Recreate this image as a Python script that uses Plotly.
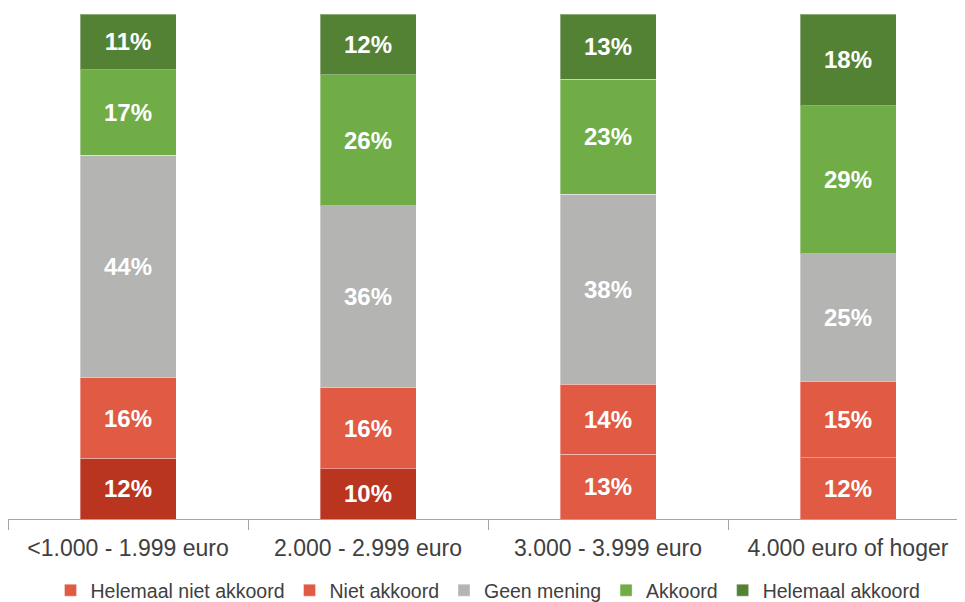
import plotly.graph_objects as go

# Inkomen categorieen
categories = ['<1.000 - 1.999 euro', '2.000 - 2.999 euro', '3.000 - 3.999 euro', '4.000 euro of hoger']

helemaal_niet_akkoord = [12, 10, 13, 12]
niet_akkoord = [16, 16, 14, 15]
geen_mening = [44, 36, 38, 25]
akkoord = [17, 26, 23, 29]
helemaal_akkoord = [11, 12, 13, 18]

# the first two bars use a darker red for "Helemaal niet akkoord"
dark_idx = [0, 1]
light_idx = [2, 3]

label_font = dict(family='Liberation Sans, Arial', size=24, color='white', weight='bold')
edge = dict(color='rgba(255,255,255,0.35)', width=1)

fig = go.Figure()

fig.add_trace(go.Bar(
    x=[categories[i] for i in light_idx], y=[helemaal_niet_akkoord[i] for i in light_idx],
    name='Helemaal niet akkoord', legendrank=1,
    marker=dict(color='#E05A44', line=edge),
    text=[f'{helemaal_niet_akkoord[i]}%' for i in light_idx],
))
fig.add_trace(go.Bar(
    x=[categories[i] for i in dark_idx], y=[helemaal_niet_akkoord[i] for i in dark_idx],
    name='Helemaal niet akkoord', showlegend=False,
    marker=dict(color='#BA3520', line=edge),
    text=[f'{helemaal_niet_akkoord[i]}%' for i in dark_idx],
))

series = [
    ('Niet akkoord', niet_akkoord, '#E05A44'),
    ('Geen mening', geen_mening, '#B4B4B2'),
    ('Akkoord', akkoord, '#70AD47'),
    ('Helemaal akkoord', helemaal_akkoord, '#548235'),
]
for k, (name, vals, color) in enumerate(series):
    fig.add_trace(go.Bar(
        x=categories, y=vals, name=name, legendrank=k + 2,
        marker=dict(color=color, line=edge),
        text=[f'{v}%' for v in vals],
    ))

fig.update_traces(textposition='inside', insidetextanchor='middle', textangle=0,
                  constraintext='none', textfont=label_font)

# page body has an 8px margin, so the figure is shifted by that amount
fig.update_layout(
    barmode='stack',
    barnorm='percent',
    bargap=0.6,
    width=960, height=602,
    margin=dict(l=0, r=0, t=6, b=90),
    plot_bgcolor='white',
    paper_bgcolor='white',
    font=dict(family='Liberation Sans, Arial', color='#404040'),
    xaxis=dict(
        showline=True, linecolor='#A6A6A6', linewidth=1,
        ticks='outside', tickson='boundaries', tickcolor='#A6A6A6', ticklen=10,
        ticklabelstandoff=8,
        tickfont=dict(size=23, color='#404040'),
        showgrid=False,
        categoryorder='array', categoryarray=categories,
    ),
    yaxis=dict(visible=False, range=[0, 100], showgrid=False),
    legend=dict(
        orientation='h', x=0.5, xanchor='center', y=-0.142, yanchor='middle',
        font=dict(size=19.5, color='#404040'),
        itemwidth=30, traceorder='normal',
    ),
)

fig.write_html("out.html")
